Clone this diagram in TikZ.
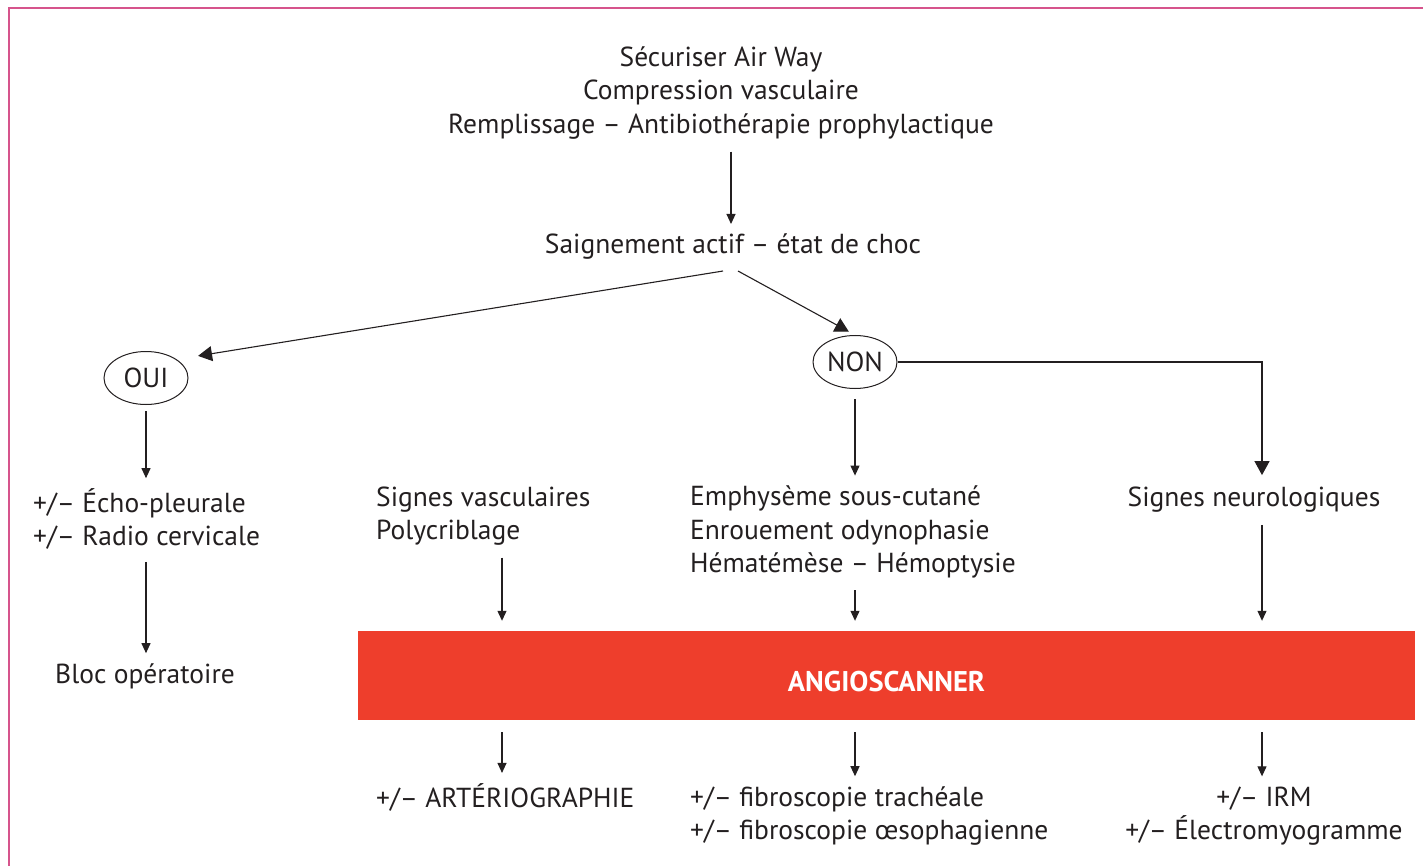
\documentclass[tikz,border=0pt]{standalone}
\usepackage{fontspec}
\setmainfont{PT Sans}
\usetikzlibrary{arrows.meta,shapes.geometric}
\definecolor{encre}{HTML}{231F20}
\definecolor{rougeangio}{HTML}{EE3E2C}
\definecolor{cadre}{HTML}{D6548C}

\begin{document}
\begin{tikzpicture}[x=1pt,y=-1pt,
    every node/.style={text=encre,inner sep=0pt,font=\fontsize{27.5}{33.5}\selectfont},
    gauche/.style={align=left,anchor=west},
    centre/.style={align=center},
    reponse/.style={ellipse,draw=encre,line width=1pt,minimum width=84pt,minimum height=53pt},
    fleche/.style={draw=encre,line width=1.1pt,-{Triangle[width=9pt,length=10pt]},shorten <=12pt,shorten >=10pt},
    grossefleche/.style={draw=encre,line width=1.1pt,-{Triangle[width=15pt,length=14pt]}}]
    \useasboundingbox (0,0) rectangle (1423,866);
    \draw[cadre,line width=2.2pt] (9,866) -- (9,8) -- (1423,8);

    \coordinate (colA) at (502,0);
    \coordinate (colB) at (855,0);
    \coordinate (colC) at (1262,0);

    \node[centre] (haut) at (721,93) {Sécuriser Air Way\\Compression vasculaire\\Remplissage -- Antibiothérapie prophylactique};
    \node (choc) at (733,247) {Saignement actif -- état de choc};
    \node[reponse] (oui) at (146,378) {OUI};
    \node[reponse] (non) at (855,362) {NON};

    \node[gauche] (echo) at (33,519) {+/-- Écho-pleurale\\+/-- Radio cervicale};
    \node (bloc) at (145,676) {Bloc opératoire};
    \node[gauche] (vasc) at (376,516) {Signes vasculaires\\Polycriblage};
    \node[gauche] (emph) at (690,532) {Emphysème sous-cutané\\Enrouement odynophasie\\Hématémèse -- Hémoptysie};
    \node (neuro) at (1254,500) {Signes neurologiques};

    \node[fill=rougeangio,minimum width=1057pt,minimum height=89pt,text=white,
          font=\fontsize{28.5}{30}\bfseries,text height=32pt,text depth=0pt] (angio) at (886.5,675.5) {ANGIOSCANNER};

    \node[gauche] (arterio) at (376,797) {+/-- ARTÉRIOGRAPHIE};
    \node[gauche] (fibro) at (690,816) {+/-- fibroscopie trachéale\\+/-- fibroscopie œsophagienne};
    \node[centre] (irm) at (1264,816) {+/-- IRM\\+/-- Électromyogramme};

    \draw[fleche] (haut.south -| 731,0) -- (choc.north -| 731,0);
    \draw[grossefleche] ([xshift=-10pt,yshift=-11pt]choc.south) -- ([xshift=22pt,yshift=3pt]oui.north east);
    \draw[grossefleche,shorten >=7pt] ([xshift=5pt,yshift=-11pt]choc.south) -- (non.north);
    \draw[grossefleche,shorten >=12pt] (non.east) -| (neuro.north -| colC);
    \draw[fleche,shorten <=10pt] (non.south) -- (emph.north -| colB);
    \draw[fleche,shorten <=6pt] (oui.south) -- (echo.north -| oui.south);
    \draw[fleche] (echo.south -| oui.south) -- (bloc.north -| oui.south);
    \draw[fleche] (vasc.south -| colA) -- (angio.north -| colA);
    \draw[fleche] (emph.south -| colB) -- (angio.north -| colB);
    \draw[fleche] (neuro.south -| colC) -- (angio.north -| colC);
    \draw[fleche] (angio.south -| colA) -- (arterio.north -| colA);
    \draw[fleche] (angio.south -| colB) -- (fibro.north -| colB);
    \draw[fleche] (angio.south -| colC) -- (irm.north -| colC);
\end{tikzpicture}
\end{document}
